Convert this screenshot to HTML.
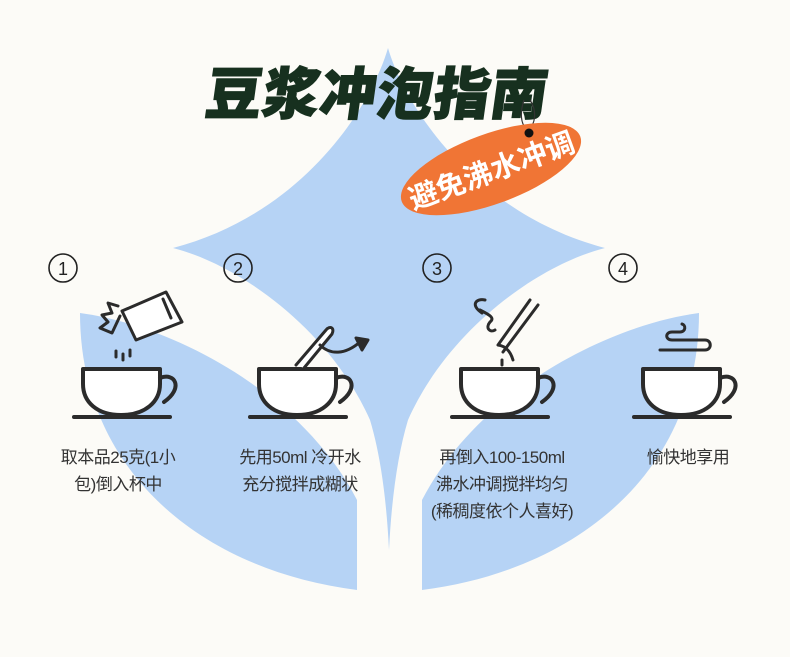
<!DOCTYPE html>
<html><head><meta charset="utf-8"><style>
html,body{margin:0;padding:0;background:#fcfbf7;}
.wrap{position:relative;width:790px;height:657px;overflow:hidden;background:#fcfbf7;font-family:"Liberation Sans","Noto Sans CJK SC",sans-serif;}
svg{position:absolute;left:0;top:0;}
.lbl{position:absolute;font-size:17px;line-height:27px;color:#333;text-align:center;white-space:nowrap;letter-spacing:-0.5px;}
.title{position:absolute;left:207px;top:50px;font-size:56px;font-weight:900;color:#17301f;letter-spacing:1px;transform:skewX(-8deg);font-family:"Noto Sans CJK SC",sans-serif;-webkit-text-stroke:1.5px #17301f;}
.tag{position:absolute;left:396px;top:134px;width:190px;height:70px;border-radius:50%;background:#f07535;transform:rotate(-20deg);color:#fff;font-size:29px;font-weight:bold;text-align:center;line-height:70px;font-family:"Noto Sans CJK SC",sans-serif;}
</style></head><body><div class="wrap">
<svg width="790" height="657" viewBox="0 0 790 657">
<g fill="#b6d3f5">
<path d="M388 48 C370 110 300 215 173 248 C240 265 330 330 370 420 Q385 470 389 550 Q393 470 408 420 C448 330 538 265 605 248 C478 215 406 110 388 48 Z"/>
<path d="M80 313 C170 325 300 390 357 500 L357 590 C200 570 80 470 80 313 Z"/>
<path d="M699 313 C609 325 479 390 422 500 L422 590 C579 570 699 470 699 313 Z"/>
</g>
<g fill="none" stroke="#222" stroke-width="1.6">
<circle cx="63" cy="268" r="14"/><circle cx="238" cy="268" r="14"/><circle cx="437" cy="268" r="14"/><circle cx="623" cy="268" r="14"/>
</g>
<g font-family="Liberation Sans,sans-serif" font-size="18" fill="#222" text-anchor="middle">
<text x="63" y="275">1</text><text x="238" y="275">2</text><text x="437" y="275">3</text><text x="623" y="275">4</text>
</g>
<g fill="#fff" stroke="#2b2b2b" stroke-width="4" stroke-linejoin="round" stroke-linecap="round">
<path d="M83 369 L160 369 L160 384 C160 402 145 415 121 415 C97 415 83 402 83 384 Z"/><path d="M160 378 C175 372 184 388 164 402" fill="none"/><line x1="74" y1="417" x2="170" y2="417"/>
<path d="M259 369 L336 369 L336 384 C336 402 321 415 297 415 C273 415 259 402 259 384 Z"/><path d="M336 378 C351 372 360 388 340 402" fill="none"/><line x1="250" y1="417" x2="346" y2="417"/>
<path d="M461 369 L538 369 L538 384 C538 402 523 415 499 415 C475 415 461 402 461 384 Z"/><path d="M538 378 C553 372 562 388 542 402" fill="none"/><line x1="452" y1="417" x2="548" y2="417"/>
<path d="M643 369 L720 369 L720 384 C720 402 705 415 681 415 C657 415 643 402 643 384 Z"/><path d="M720 378 C735 372 744 388 724 402" fill="none"/><line x1="634" y1="417" x2="730" y2="417"/>
</g>
<g fill="none" stroke="#2b2b2b" stroke-width="3" stroke-linecap="round" stroke-linejoin="round">
<path d="M122 311 L166 292 L182 322 L136 340 Z" fill="#fff"/><line x1="163" y1="299" x2="171" y2="318"/>
<path d="M118 306 L108 303 L112 313 L102 315 L108 322 L100 328 L112 333 L120 316"/>
<line x1="116" y1="351" x2="116" y2="357"/><line x1="123" y1="354" x2="123" y2="360"/><line x1="130" y1="350" x2="130" y2="356"/>
<path d="M296 365 L326 330 C330 325 335 328 332 334 L304 368" fill="#fff"/>
<path d="M320 345 C330 355 345 355 360 342"/><path d="M356 338 L368 340 L362 350 Z" fill="#2b2b2b"/>
<path d="M482 313 C470 305 476 298 485 300 M480 310 C490 315 495 318 490 322 C485 328 490 333 495 330"/>
<path d="M498 345 L530 300 M503 352 L538 305 M498 345 C505 346 510 350 513 360"/>
<line x1="502" y1="360" x2="502" y2="367" stroke-dasharray="5 4"/>
<path d="M660 350 L705 350 C712 350 712 340 705 340 L672 340 C665 340 665 332 672 332 L680 332 C686 332 686 325 682 324"/>
</g>
</svg>
<div class="title">豆浆冲泡指南</div>
<svg width="790" height="657"><path d="M524 100 C520 112 520 125 528 130 M530 100 C538 112 534 125 530 128" fill="none" stroke="#333" stroke-width="1.2"/></svg>
<div class="tag">避免沸水冲调</div>
<svg width="790" height="657"><circle cx="529" cy="133" r="4.5" fill="#111"/></svg>
<div class="lbl" style="left:40px;top:444px;width:156px;">取本品25克(1小<br>包)倒入杯中</div>
<div class="lbl" style="left:220px;top:444px;width:160px;">先用50ml 冷开水<br>充分搅拌成糊状</div>
<div class="lbl" style="left:420px;top:444px;width:164px;">再倒入100-150ml<br>沸水冲调搅拌均匀<br>(稀稠度依个人喜好)</div>
<div class="lbl" style="left:620px;top:444px;width:136px;">愉快地享用</div>
</div></body></html>
